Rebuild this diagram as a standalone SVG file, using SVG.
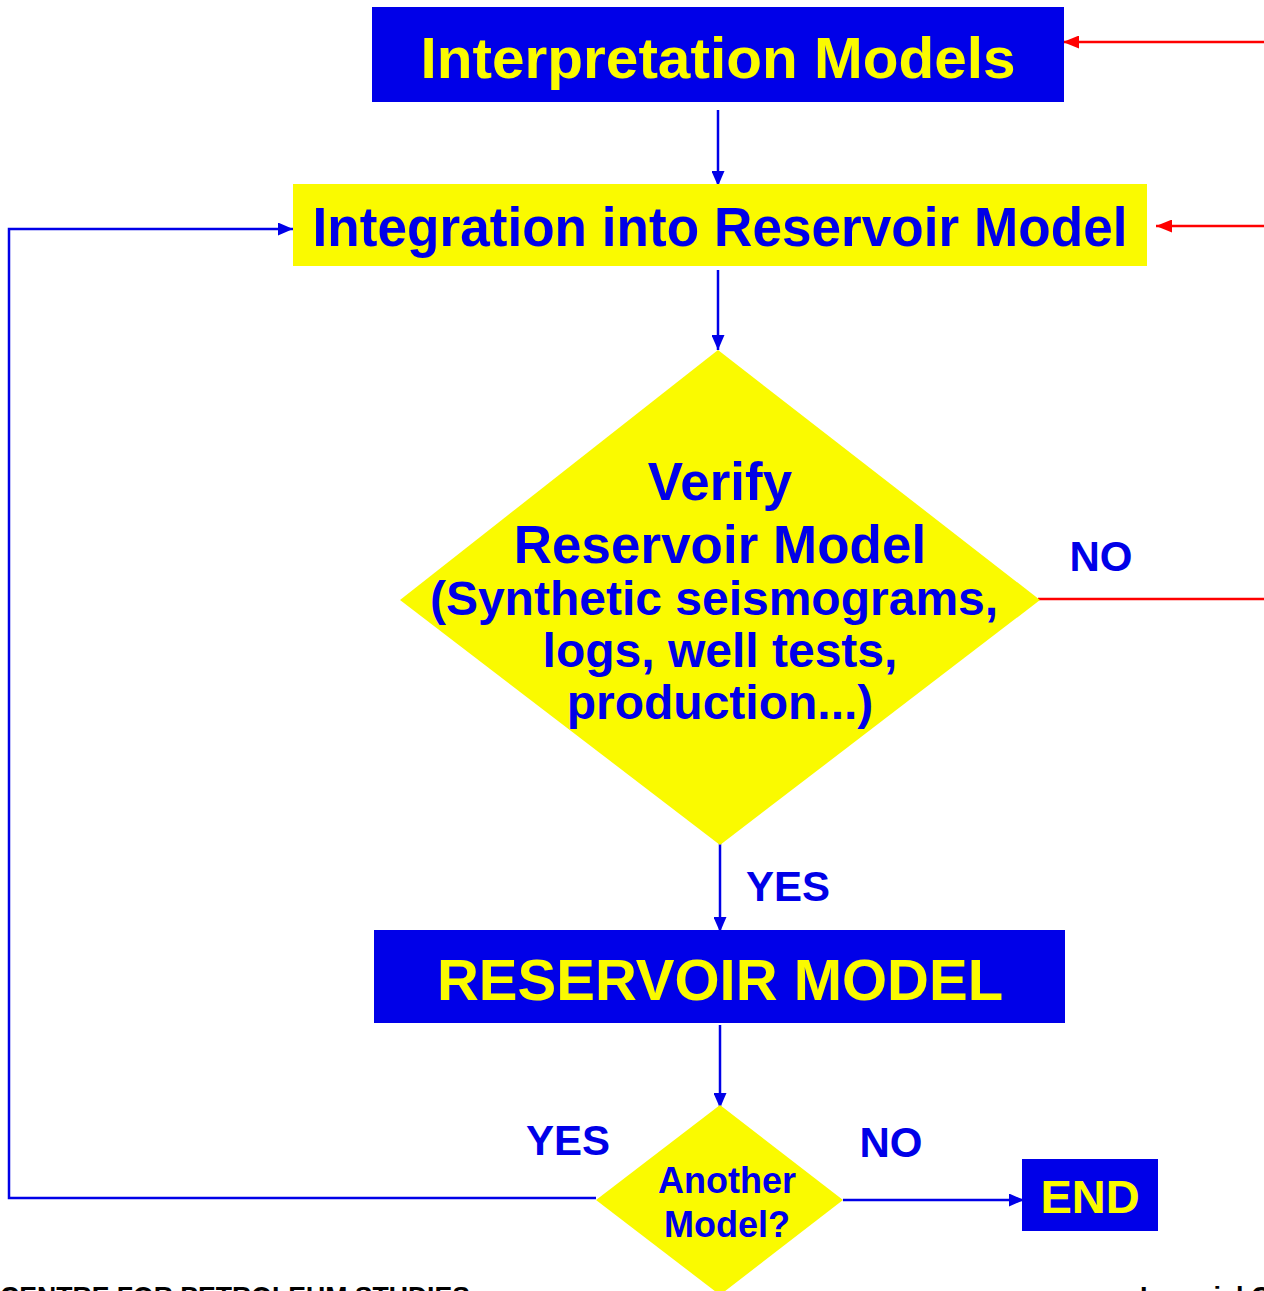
<svg xmlns="http://www.w3.org/2000/svg" width="1264" height="1291" viewBox="0 0 1264 1291">
  <style>
    .bx { fill: #0000E8; }
    .yl { fill: #FAFA00; }
    .t { font-family: "Liberation Sans", Arial, sans-serif; font-weight: bold; text-anchor: middle; }
    .ty { fill: #FAFA00; }
    .tb { fill: #0000E8; }
    .ln { fill: none; stroke: #0000E8; stroke-width: 2.5; }
    .rd { fill: none; stroke: #FF0000; stroke-width: 2.5; }
    .foot { font-family: "Liberation Sans", Arial, sans-serif; font-weight: bold; fill: #000; font-size: 27px; }
  </style>
  <defs>
    <marker id="ab" viewBox="0 0 15 13" refX="15" refY="6.5" markerWidth="15" markerHeight="13" markerUnits="userSpaceOnUse" orient="auto">
      <path d="M0,0 L15,6.5 L0,13 Z" fill="#0000E8"/>
    </marker>
    <marker id="ar" viewBox="0 0 16 13" refX="16" refY="6.5" markerWidth="16" markerHeight="13" markerUnits="userSpaceOnUse" orient="auto">
      <path d="M0,0 L16,6.5 L0,13 Z" fill="#FF0000"/>
    </marker>
  </defs>

  <g id="connectors">
    <line class="ln" x1="718" y1="110" x2="718" y2="186" marker-end="url(#ab)"/>
    <line class="ln" x1="718" y1="270" x2="718" y2="350" marker-end="url(#ab)"/>
    <line class="ln" x1="720" y1="840" x2="720" y2="932" marker-end="url(#ab)"/>
    <line class="ln" x1="720" y1="1025" x2="720" y2="1108" marker-end="url(#ab)"/>
    <polyline class="ln" points="596,1198 9,1198 9,229 293,229" marker-end="url(#ab)"/>
    <line class="ln" x1="843" y1="1200" x2="1024" y2="1200" marker-end="url(#ab)"/>
    <line class="rd" x1="1264" y1="42" x2="1063" y2="42" marker-end="url(#ar)"/>
    <line class="rd" x1="1264" y1="226" x2="1156" y2="226" marker-end="url(#ar)"/>
    <line class="rd" x1="1038" y1="599" x2="1264" y2="599"/>
  </g>

  <g id="interpretation-models">
    <rect class="bx" x="372" y="7" width="692" height="95"/>
    <text class="t ty" x="718" y="78" font-size="58" textLength="595" lengthAdjust="spacingAndGlyphs">Interpretation Models</text>
  </g>

  <g id="integration">
    <rect class="yl" x="293" y="184" width="854" height="82"/>
    <text class="t tb" x="720" y="246" font-size="55" textLength="815" lengthAdjust="spacingAndGlyphs">Integration into Reservoir Model</text>
  </g>

  <g id="verify">
    <polygon class="yl" points="718,350 1040,600 720,845 400,600"/>
    <text class="t tb" x="720" y="500" font-size="53">Verify</text>
    <text class="t tb" x="720" y="563" font-size="53">Reservoir Model</text>
    <text class="t tb" x="714" y="615" font-size="48">(Synthetic seismograms,</text>
    <text class="t tb" x="720" y="667" font-size="48">logs, well tests,</text>
    <text class="t tb" x="720" y="719" font-size="48">production...)</text>
  </g>

  <g id="labels">
    <text class="t tb" x="1101" y="571" font-size="42">NO</text>
    <text class="t tb" x="788" y="901" font-size="42">YES</text>
    <text class="t tb" x="568" y="1155" font-size="42">YES</text>
    <text class="t tb" x="891" y="1157" font-size="42">NO</text>
  </g>

  <g id="reservoir-model">
    <rect class="bx" x="374" y="930" width="691" height="93"/>
    <text class="t ty" x="720" y="1000" font-size="58">RESERVOIR MODEL</text>
  </g>

  <g id="another-model">
    <polygon class="yl" points="720,1105 843,1200 720,1295 596,1200"/>
    <text class="t tb" x="727" y="1193" font-size="36">Another</text>
    <text class="t tb" x="727" y="1237" font-size="36">Model?</text>
  </g>

  <g id="end">
    <rect class="bx" x="1022" y="1159" width="136" height="72"/>
    <text class="t ty" x="1090" y="1213" font-size="47">END</text>
  </g>

  <g id="footer">
    <text class="foot" x="0" y="1306" textLength="470" lengthAdjust="spacingAndGlyphs">CENTRE FOR PETROLEUM STUDIES</text>
    <text class="foot" x="1140" y="1306">Imperial College</text>
  </g>
</svg>
